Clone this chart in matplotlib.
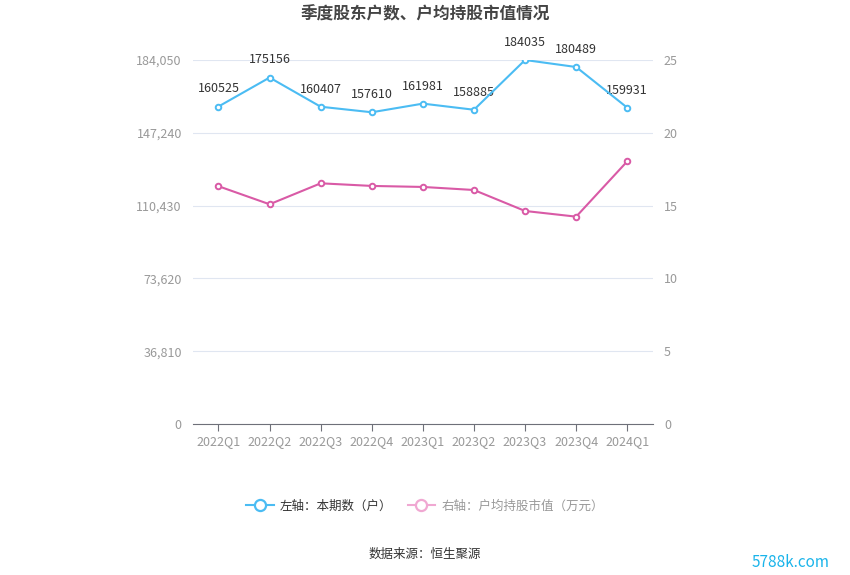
import numpy as np
from matplotlib import pyplot as plt
from matplotlib.lines import Line2D

plt.rcParams['font.family'] = ['Noto Sans CJK SC', 'DejaVu Sans']

quarters = ['2022Q1', '2022Q2', '2022Q3', '2022Q4', '2023Q1', '2023Q2', '2023Q3', '2023Q4', '2024Q1']
holders = [160525, 175156, 160407, 157610, 161981, 158885, 184035, 180489, 159931]
avg_value = [16.33, 15.09, 16.53, 16.35, 16.28, 16.07, 14.63, 14.24, 18.04]
left_ticks = [0, 36810, 73620, 110430, 147240, 184050]
right_ticks = [0, 5, 10, 15, 20, 25]

blue = '#4bbcf3'
pink = '#d95aa6'
grid_c = '#e0e6f1'
tick_c = '#999999'

fig = plt.figure(figsize=(8.5, 5.75), dpi=100)
ax = fig.add_axes([0.227, 0.2626, 0.541, 0.6331])
ax2 = ax.twinx()

x = np.arange(len(quarters))
ax.plot(x, holders, color=blue, lw=1.5, marker='o', ms=4, mfc='white', mec=blue, mew=1.4, zorder=5)
for xi, v in zip(x, holders):
    ax.annotate(str(v), (xi, v), xytext=(0, 8), textcoords='offset points',
                ha='center', va='bottom', fontsize=9, color='#333333')

ax2.plot(x, avg_value, color=pink, lw=1.5, marker='o', ms=4, mfc='white', mec=pink, mew=1.4, zorder=5)

ax.set_xlim(-0.5, len(quarters) - 0.5)
ax.set_ylim(0, 184050)
ax2.set_ylim(0, 25)
ax.set_yticks(left_ticks)
ax.set_yticklabels([f'{t:,}' for t in left_ticks])
ax2.set_yticks(right_ticks)
ax.set_xticks(x)
ax.set_xticklabels(quarters)

ax.grid(axis='y', color=grid_c, lw=0.8)
ax.set_axisbelow(True)
for a in (ax, ax2):
    for s in ('top', 'left', 'right', 'bottom'):
        a.spines[s].set_visible(False)
ax.spines['bottom'].set_visible(True)
ax.spines['bottom'].set_color('#6e7079')

ax.tick_params(axis='y', length=0, labelcolor=tick_c, labelsize=9, pad=8)
ax2.tick_params(axis='y', length=0, labelcolor=tick_c, labelsize=9, pad=8)
ax.tick_params(axis='x', length=5, color='#6e7079', labelcolor=tick_c, labelsize=9, pad=3)

fig.text(0.5, 0.975, '季度股东户数、户均持股市值情况', ha='center', va='center',
         fontsize=12, fontweight='bold', color='#444444')

handles = [Line2D([], [], color=blue, lw=1.5, marker='o', ms=8, mfc='white', mec=blue, mew=1.6),
           Line2D([], [], color='#f0a8d2', lw=1.5, marker='o', ms=8, mfc='white', mec='#f0a8d2', mew=1.6)]
leg = fig.legend(handles, ['左轴：本期数（户）', '右轴：户均持股市值（万元）'], loc='center',
                 bbox_to_anchor=(0.5, 0.12), ncol=2, frameon=False, fontsize=9,
                 handlelength=2.2, columnspacing=1.2, handletextpad=0.5)
leg.get_texts()[0].set_color('#333333')
leg.get_texts()[1].set_color('#999999')

fig.text(0.5, 0.035, '数据来源：恒生聚源', ha='center', va='center', fontsize=9, color='#333333')
fig.text(0.93, 0.022, '5788k.com', ha='center', va='center', fontsize=11, color='#1ab4ea')

plt.savefig('out.png', dpi=100)
